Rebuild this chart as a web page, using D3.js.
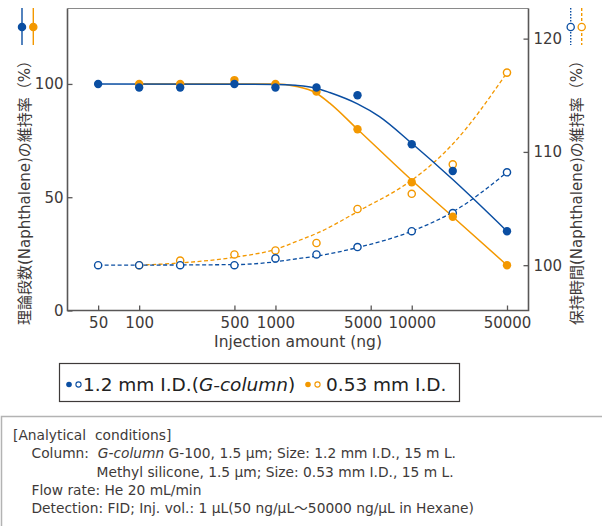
<!DOCTYPE html>
<html>
<head>
<meta charset="utf-8">
<script src="https://cdn.jsdelivr.net/npm/d3@7"></script>
<style>
body { margin: 0; background: #fff; }
svg { display: block; }
</style>
</head>
<body>
<svg></svg>
<script>
// injection amounts (ng)
var amounts = [50, 100, 200, 500, 1000, 2000, 4000, 10000, 20000, 50000];

// theoretical plates retention (%) - left axis, filled markers
var platesBlue   = [100, 98.4, 98.4, 100, 98.4, 98.4, 95, 73.4, 61.6, 35];
var platesOrange = [null, 100, 100, 101.7, 100, 96.6, 80, 56.6, 41.4, 20];

// retention time retention (%) - right axis, open markers
var rtBlue   = [100, 100, 100, 100, 100.6, 100.95, 101.6, 103, 104.6, 108.2];
var rtOrange = [null, 100, 100.4, 100.95, 101.3, 101.96, 104.96, 106.3, 108.9, 117];

// fitted curves: [amount, value]
var platesFitBlue   = [[50,100],[1000,99.8],[1400,99.4],[2000,98.1],[2500,96.2],[4000,91.2],[5800,85.6],[10000,73.8],[20000,57.8],[50000,35]];
var platesFitOrange = [[100,100],[1000,100],[1400,99],[2000,95.9],[2500,91.5],[4000,80],[10000,57.5],[20000,41.4],[50000,20]];
var rtFitBlue   = [[50,100],[500,100.05],[1000,100.3],[1500,100.6],[2000,100.8],[4000,101.56],[10000,103],[20000,104.7],[50000,108.2]];
var rtFitOrange = [[100,100],[200,100.2],[500,100.7],[1000,101.4],[1500,102.2],[2000,102.8],[4400,105],[8200,106.8],[10000,107.5],[20000,110.7],[50000,117]];

var xTicks  = [50, 100, 500, 1000, 5000, 10000, 50000];
var yLTicks = [0, 50, 100];
var yRTicks = [100, 110, 120];

var conditions = [
    "[Analytical  conditions]",
    "Column:  ",
    "Methyl silicone, 1.5 µm; Size: 0.53 mm I.D., 15 m L.",
    "Flow rate: He 20 mL/min",
    "Detection: FID; Inj. vol.: 1 µL(50 ng/µL～50000 ng/µL in Hexane)"
];

var w = 602, h = 526;
var blue = "#0a4ea2", orange = "#f39800", ink = "#3e3a39", axisCol = "#595757";
var font = "'DejaVu Sans', 'Noto Sans CJK JP', sans-serif";

var svg = d3.select("svg").attr("width", w).attr("height", h)
    .style("font-family", font);

var pL = 67.5, pR = 528.5, pT = 8.5, pB = 310.5;

var x = d3.scaleLog().domain([29.8, 71900]).range([pL, pR]);
var yL = d3.scaleLinear().domain([0, 133.3]).range([pB, pT]);
var yR = d3.scaleLinear().domain([96, 122.66]).range([pB, pT]);

// frame
svg.append("line").attr("x1", pL).attr("x2", pR).attr("y1", pT).attr("y2", pT)
    .attr("stroke", "#8a8a8a").attr("stroke-width", 1);
svg.append("path")
    .attr("d", "M" + pL + "," + pT + "V" + pB + "H" + pR + "V" + pT)
    .attr("fill", "none").attr("stroke", axisCol).attr("stroke-width", 1.6);

// axes
var gx = svg.append("g").attr("transform", "translate(0," + pB + ")")
    .call(d3.axisBottom(x).tickValues(xTicks).tickFormat(d3.format("d"))
        .tickSize(-5).tickPadding(7));
var gl = svg.append("g").attr("transform", "translate(" + pL + ",0)")
    .call(d3.axisLeft(yL).tickValues(yLTicks).tickSize(-5).tickPadding(4));
var gr = svg.append("g").attr("transform", "translate(" + pR + ",0)")
    .call(d3.axisRight(yR).tickValues(yRTicks).tickSize(-5).tickPadding(5));

[gx, gl, gr].forEach(function(g) {
    g.select(".domain").remove();
    g.selectAll(".tick line").attr("stroke", axisCol).attr("stroke-width", 1.3);
    g.selectAll(".tick text").attr("fill", ink).attr("font-size", "15px")
        .attr("font-family", font);
});
// the 5000 label sits a little left of its tick
gx.selectAll(".tick text").filter(function(d) { return d === 5000; }).attr("dx", -8);

svg.append("text")
    .attr("x", (pL + pR) / 2).attr("y", 347)
    .attr("text-anchor", "middle").attr("font-size", "15.5px").attr("fill", ink)
    .text("Injection amount (ng)");

svg.append("text")
    .attr("transform", "translate(30,189) rotate(-90)")
    .attr("text-anchor", "middle").attr("font-size", "15px").attr("fill", ink)
    .text("理論段数(Naphthalene)の維持率（%）");

svg.append("text")
    .attr("transform", "translate(582,189) rotate(-90)")
    .attr("text-anchor", "middle").attr("font-size", "15px").attr("fill", ink)
    .text("保持時間(Naphthalene)の維持率（%）");

// fitted curves
var lineL = d3.line().x(function(d) { return x(d[0]); }).y(function(d) { return yL(d[1]); })
    .curve(d3.curveMonotoneX);
var lineR = d3.line().x(function(d) { return x(d[0]); }).y(function(d) { return yR(d[1]); })
    .curve(d3.curveMonotoneX);

svg.append("path").datum(rtFitOrange).attr("d", lineR).attr("fill", "none")
    .attr("stroke", orange).attr("stroke-width", 1.3).attr("stroke-dasharray", "4,2.5");
svg.append("path").datum(rtFitBlue).attr("d", lineR).attr("fill", "none")
    .attr("stroke", blue).attr("stroke-width", 1.3).attr("stroke-dasharray", "4,2.5");
svg.append("path").datum(platesFitOrange).attr("d", lineL).attr("fill", "none")
    .attr("stroke", orange).attr("stroke-width", 1.5);
svg.append("path").datum(platesFitBlue).attr("d", lineL).attr("fill", "none")
    .attr("stroke", blue).attr("stroke-width", 1.5);

// markers
function pts(vals) {
    return amounts.map(function(a, i) { return [a, vals[i]]; })
        .filter(function(d) { return d[1] != null; });
}

function openMarks(vals, color) {
    svg.append("g").selectAll("circle").data(pts(vals)).enter().append("circle")
        .attr("cx", function(d) { return x(d[0]); })
        .attr("cy", function(d) { return yR(d[1]); })
        .attr("r", 3.6).attr("fill", "#fff").attr("stroke", color).attr("stroke-width", 1.4);
}
function filledMarks(vals, color) {
    svg.append("g").selectAll("circle").data(pts(vals)).enter().append("circle")
        .attr("cx", function(d) { return x(d[0]); })
        .attr("cy", function(d) { return yL(d[1]); })
        .attr("r", 4.2).attr("fill", color);
}
openMarks(rtOrange, orange);
openMarks(rtBlue, blue);
filledMarks(platesOrange, orange);
filledMarks(platesBlue, blue);

// small series keys at the top corners
function key(cx, color, filled, dash) {
    svg.append("line").attr("x1", cx).attr("x2", cx).attr("y1", 8).attr("y2", 45)
        .attr("stroke", color).attr("stroke-width", 1.4)
        .attr("stroke-dasharray", dash || null);
    svg.append("circle").attr("cx", cx).attr("cy", 27).attr("r", 3.6)
        .attr("fill", filled ? color : "#fff").attr("stroke", color).attr("stroke-width", 1.3);
}
key(22, blue, true);
key(33.3, orange, true);
key(570.7, blue, false, "1.5,1.5");
key(581.7, orange, false, "3,2");

// legend box
svg.append("rect").attr("x", 59.5).attr("y", 363.5).attr("width", 400).attr("height", 38)
    .attr("fill", "#fff").attr("stroke", ink).attr("stroke-width", 1.2);

function legDots(cx, color) {
    svg.append("circle").attr("cx", cx).attr("cy", 384.5).attr("r", 2.8).attr("fill", color);
    svg.append("circle").attr("cx", cx + 9.5).attr("cy", 384.5).attr("r", 2.6)
        .attr("fill", "#fff").attr("stroke", color).attr("stroke-width", 1.1);
}
legDots(69, blue);
legDots(308, orange);

var t1 = svg.append("text").attr("x", 83).attr("y", 391).attr("font-size", "18.5px").attr("fill", "#222");
t1.append("tspan").text("1.2 mm I.D.(");
t1.append("tspan").attr("font-style", "italic").text("G-column");
t1.append("tspan").text(")");
svg.append("text").attr("x", 326).attr("y", 391).attr("font-size", "18.5px").attr("fill", "#222")
    .text("0.53 mm I.D.");

// conditions box
svg.append("rect").attr("x", 1.5).attr("y", 416.5).attr("width", 640).attr("height", 200)
    .attr("fill", "#fff").attr("stroke", "#b3b3b3").attr("stroke-width", 1.5);

var condX = [13, 31.5, 96.5, 31.5, 31.5];
var condY = [440, 458, 476.5, 495, 513.3];
var ct = svg.append("g").attr("font-size", "13.8px").attr("fill", ink);
conditions.forEach(function(s, i) {
    var t = ct.append("text").attr("x", condX[i]).attr("y", condY[i]).attr("xml:space", "preserve");
    t.append("tspan").text(s);
    if (i === 1) {
        t.append("tspan").attr("font-style", "italic").text("G-column");
        t.append("tspan").text(" G-100, 1.5 µm; Size: 1.2 mm I.D., 15 m L.");
    }
});
</script>
</body>
</html>
